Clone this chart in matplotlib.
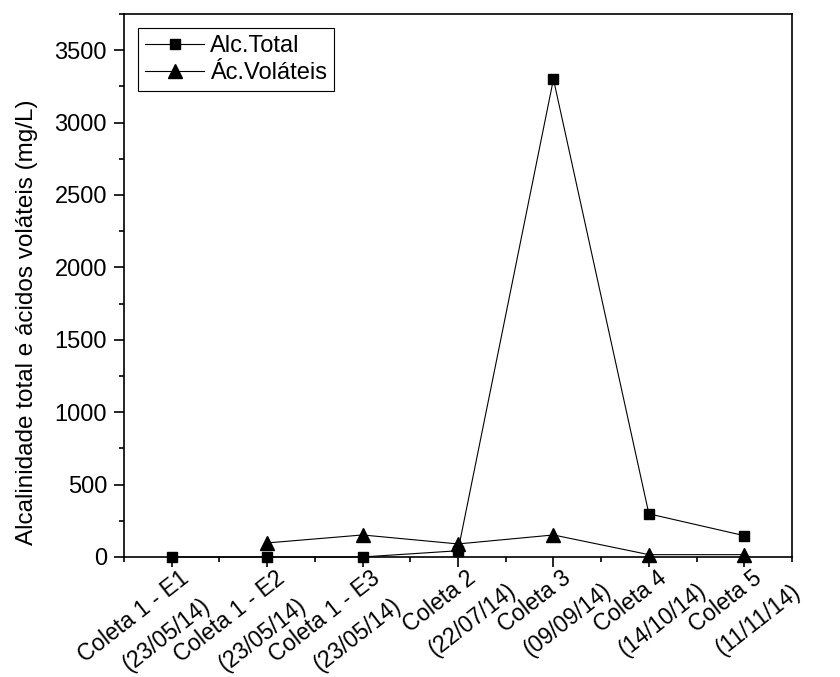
import numpy as np
import matplotlib
matplotlib.use("Agg")
import matplotlib.pyplot as plt
from matplotlib.ticker import MultipleLocator

plt.rcParams['font.family'] = ['Liberation Sans', 'DejaVu Sans']

# sampling campaigns (name, date)
coletas = ["Coleta 1 - E1", "Coleta 1 - E2", "Coleta 1 - E3", "Coleta 2",
           "Coleta 3", "Coleta 4", "Coleta 5"]
datas = ["(23/05/14)", "(23/05/14)", "(23/05/14)", "(22/07/14)",
         "(09/09/14)", "(14/10/14)", "(11/11/14)"]

# mg/L
alc_total = [0, 0, 0, 43, 3300, 298, 147]
ac_volateis = [np.nan, 97, 152, 90, 152, 16, 16]

fs = 17
fig = plt.figure(figsize=(8.4, 6.77), dpi=100)
ax = fig.add_axes([0.1476, 0.1773, 0.7953, 0.802])

x = np.arange(len(coletas))
ax.plot(x, alc_total, color='black', lw=0.8, marker='s', ms=7,
        label='Alc.Total', clip_on=False, zorder=3)
ax.plot(x, ac_volateis, color='black', lw=0.8, marker='^', ms=10,
        label='Ác.Voláteis', clip_on=False, zorder=3)

ax.set_xlim(-0.5, 6.5)
ax.set_ylim(0, 3750)
ax.yaxis.set_major_locator(MultipleLocator(500))
ax.yaxis.set_minor_locator(MultipleLocator(250))
ax.set_xticks(x)
ax.set_xticklabels([])
ax.set_xticks(np.arange(-0.5, 7, 1), minor=True)

for s in ax.spines.values():
    s.set_linewidth(1.2)
ax.tick_params(which='major', direction='out', length=7.2, width=1.2,
               labelsize=fs, pad=5)
ax.tick_params(which='minor', direction='out', length=3.6, width=1.2)

ax.set_ylabel('Alcalinidade total e ácidos voláteis (mg/L)', fontsize=17.5)
ax.yaxis.set_label_coords(-0.129, 0.433)

# two-line rotated category labels
xfs = 16.5
ang = 38
th = np.radians(ang)
u = np.array([np.cos(th), np.sin(th)])
n = np.array([np.sin(th), -np.cos(th)])
renderer = fig.canvas.get_renderer()
prop = matplotlib.font_manager.FontProperties(family=['Liberation Sans'], size=xfs)
for i in range(len(coletas)):
    w1 = renderer.get_text_width_height_descent(coletas[i], prop, ismath=False)[0]
    p1 = 0 * u + 24 * n
    ax.annotate(coletas[i], xy=(i, 0), xycoords=('data', 'axes fraction'),
                xytext=tuple(p1), textcoords='offset pixels', fontsize=xfs,
                rotation=ang, rotation_mode='anchor', ha='right', va='center',
                annotation_clip=False)
    c1 = p1 - (w1 / 2) * u
    p2 = c1 + 15 * u + 34 * n
    ax.annotate(datas[i], xy=(i, 0), xycoords=('data', 'axes fraction'),
                xytext=tuple(p2), textcoords='offset pixels', fontsize=xfs,
                rotation=ang, rotation_mode='anchor', ha='center', va='center',
                annotation_clip=False)

leg = ax.legend(loc='upper left', bbox_to_anchor=(0.021, 0.974), borderaxespad=0,
                fontsize=fs, numpoints=1, handlelength=2.5, handletextpad=0.25,
                borderpad=0.3, labelspacing=0.2, fancybox=False, framealpha=1)
leg.get_frame().set_edgecolor('black')
leg.get_frame().set_linewidth(0.8)

fig.savefig('out.png', dpi=100)
